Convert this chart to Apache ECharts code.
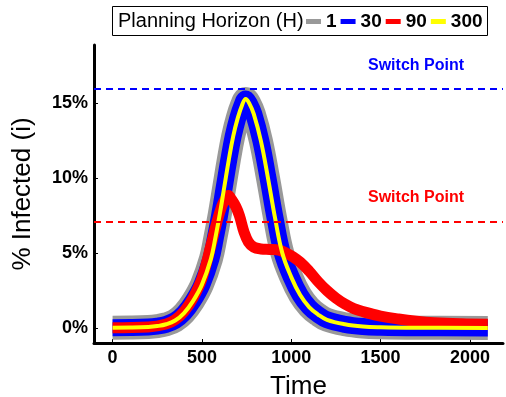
<!DOCTYPE html>
<html>
<head>
<meta charset="utf-8">
<script src="https://cdn.jsdelivr.net/npm/echarts@6.0.0/dist/echarts.min.js"></script>
<style>
  html, body { margin: 0; padding: 0; background: #fff; }
  #chart { width: 506px; height: 397px; }
</style>
</head>
<body>
<div id="chart"></div>
<script>
// H = 1, 30, 300 lie on top of each other, so they share the time steps
var timeMain = [0, 100, 200, 250, 300, 350, 400, 450, 500, 550, 575, 600, 625, 650, 675, 700, 725, 745, 765, 790, 830, 870, 910, 950, 1000, 1050, 1100, 1150, 1200, 1300, 1400, 1500, 1700, 2100];
var pctH1   = [0.02, 0.03, 0.07, 0.13, 0.25, 0.5, 1.0, 1.8, 2.9, 4.6, 6.0, 7.6, 9.4, 11.2, 12.8, 14.0, 14.9, 15.3, 15.0, 14.3, 12.5, 10.0, 7.3, 5.0, 3.4, 2.2, 1.4, 0.9, 0.55, 0.25, 0.1, 0.05, 0.02, 0.01];
var pctH30  = [0.02, 0.03, 0.07, 0.13, 0.25, 0.5, 1.0, 1.8, 2.9, 4.6, 6.0, 7.6, 9.4, 11.2, 12.8, 14.0, 14.9, 15.3, 15.0, 14.3, 12.5, 10.0, 7.3, 5.0, 3.4, 2.2, 1.4, 0.9, 0.55, 0.25, 0.1, 0.05, 0.02, 0.01];
var pctH300 = [0.02, 0.03, 0.07, 0.13, 0.25, 0.5, 1.0, 1.8, 2.9, 4.6, 6.0, 7.6, 9.4, 11.2, 12.8, 14.0, 14.9, 15.3, 15.0, 14.3, 12.5, 10.0, 7.3, 5.0, 3.4, 2.2, 1.4, 0.9, 0.55, 0.25, 0.1, 0.05, 0.02, 0.01];

// H = 90 switches early and flattens
var timeH90 = [0, 200, 300, 350, 400, 450, 500, 550, 580, 610, 630, 648, 665, 690, 710, 736, 760, 790, 830, 880, 930, 970, 1010, 1050, 1100, 1150, 1200, 1250, 1300, 1350, 1400, 1500, 1600, 1700, 1800, 1950, 2100];
var pctH90  = [0.02, 0.07, 0.27, 0.55, 1.1, 2.0, 3.3, 5.5, 6.9, 8.1, 8.6, 8.85, 8.6, 8.1, 7.5, 6.4, 5.75, 5.4, 5.28, 5.25, 5.2, 5.02, 4.75, 4.4, 3.8, 3.1, 2.5, 2.0, 1.6, 1.3, 1.1, 0.8, 0.6, 0.45, 0.35, 0.28, 0.25];

var switchBlue = 16;
var switchRed = 7.07;

var xTicks = [0, 500, 1000, 1500, 2000];
var yTicks = [0, 5, 10, 15];

var fontFam = 'Liberation Sans, Arial, Helvetica, sans-serif';

function pairs(ts, vs) {
  return ts.map(function (t, i) { return [t, vs[i]]; });
}

function lineSeries(name, color, width, ts, vs) {
  return {
    name: name,
    type: 'line',
    data: pairs(ts, vs),
    smooth: 0.4,
    showSymbol: false,
    symbol: 'none',
    silent: true,
    animation: false,
    color: color,
    lineStyle: { color: color, width: width, cap: 'butt', join: 'round' }
  };
}

var chart = echarts.init(document.getElementById('chart'));

var series = [
  lineSeries('1', '#999999', 24, timeMain, pctH1),
  lineSeries('30', '#0000ff', 17, timeMain, pctH30),
  lineSeries('90', '#ff0000', 11, timeH90, pctH90),
  lineSeries('300', '#ffff00', 4, timeMain, pctH300)
];
// dashed switch points drawn on top
series[3].markLine = {
  silent: true,
  symbol: 'none',
  animation: false,
  label: { show: false },
  data: [
    { yAxis: switchBlue, lineStyle: { color: '#0000ff', width: 2, type: [7, 5] } },
    { yAxis: switchRed, lineStyle: { color: '#ff0000', width: 2, type: [7, 5] } }
  ]
};

var option = {
  backgroundColor: '#fff',
  animation: false,
  grid: { left: 94, right: 3, top: 45, bottom: 54, containLabel: false, outerBoundsMode: 'none' },
  legend: {
    data: ['1', '30', '90', '300'],
    left: 306,
    top: 12,
    padding: 0,
    icon: 'rect',
    itemWidth: 15,
    itemHeight: 5,
    itemGap: 4,
    selectedMode: false,
    textStyle: { color: '#000', fontSize: 19, fontWeight: 'bold', fontFamily: fontFam }
  },
  xAxis: {
    type: 'value',
    min: -104,
    max: 2185,
    name: 'Time',
    nameLocation: 'middle',
    nameGap: 31,
    nameTextStyle: { color: '#000', fontSize: 26, fontFamily: fontFam },
    axisLine: { onZero: false, lineStyle: { color: '#000', width: 3 } },
    axisTick: { show: true, inside: true, length: 4, customValues: xTicks, lineStyle: { color: '#000', width: 1 } },
    axisLabel: {
      customValues: xTicks, color: '#000', fontSize: 18, fontWeight: 'bold', fontFamily: fontFam, margin: 6,
      formatter: function (v) { return String(v); }
    },
    splitLine: { show: false }
  },
  yAxis: {
    type: 'value',
    min: -1,
    max: 18.9,
    name: '% Infected (i)',
    nameLocation: 'middle',
    nameGap: 58,
    nameTextStyle: { color: '#000', fontSize: 26, fontFamily: fontFam },
    axisLine: { show: true, onZero: false, lineStyle: { color: '#000', width: 3 } },
    axisTick: { show: true, inside: true, length: 4, customValues: yTicks, lineStyle: { color: '#000', width: 1 } },
    axisLabel: {
      customValues: yTicks,
      color: '#000', fontSize: 18, fontWeight: 'bold', fontFamily: fontFam, margin: 6,
      formatter: function (v) { return v + '%'; }
    },
    splitLine: { show: false }
  },
  graphic: [
    // legend frame and title
    { type: 'rect', shape: { x: 112.5, y: 6.5, width: 375, height: 29 }, style: { fill: '#fff', stroke: '#000', lineWidth: 1 }, z: -1 },
    { type: 'text', x: 118, y: 21.5, style: { text: 'Planning Horizon (H)', fill: '#000', font: '20px ' + fontFam, textVerticalAlign: 'middle' } },
    // switch point notes
    { type: 'text', x: 416, y: 66, style: { text: 'Switch Point', fill: '#0000ff', font: 'bold 16px ' + fontFam, textAlign: 'center', textVerticalAlign: 'middle' } },
    { type: 'text', x: 416, y: 198, style: { text: 'Switch Point', fill: '#ff0000', font: 'bold 16px ' + fontFam, textAlign: 'center', textVerticalAlign: 'middle' } }
  ],
  series: series
};

chart.setOption(option);
</script>
</body>
</html>
